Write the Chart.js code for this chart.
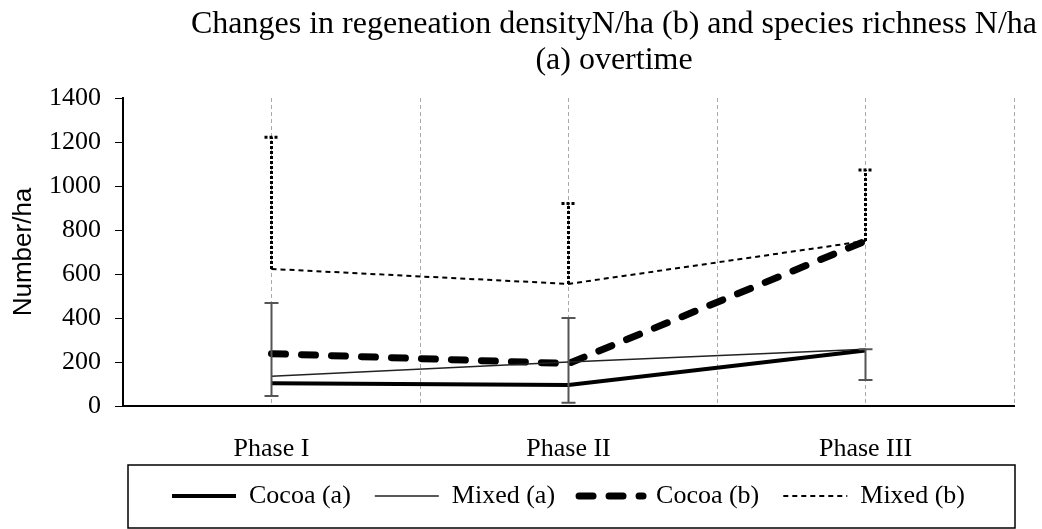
<!DOCTYPE html>
<html>
<head>
<meta charset="utf-8">
<script src="https://cdn.jsdelivr.net/npm/chart.js@4.4.1/dist/chart.umd.min.js"></script>
<style>
body { margin: 0; background: #fff; }
</style>
</head>
<body>
<canvas id="myChart" width="1042" height="529"></canvas>
<script>
const categories = ['Phase I', 'Phase II', 'Phase III'];
const cocoaA = [103, 96, 252];
const mixedA = [135, 200, 258];
const cocoaB = [238, 193, 750];
const mixedB = [623, 555, 750];
// error bars
const mixedBTop = [1222, 921, 1073];
const barLow = [46, 15, 118];
const barHigh = [468, 400, 258];
const titleLines = ['Changes in regeneation densityN/ha (b) and species richness N/ha', '(a) overtime'];

const serif = '"Liberation Serif", "Times New Roman", serif';
const pts = arr => arr.map((v, i) => ({x: i * 2 + 1, y: v}));

const titlePlugin = {
	id: 'twoLineTitle',
	afterDraw(chart) {
		const c = chart.ctx;
		c.save();
		c.font = '32px ' + serif;
		c.fillStyle = '#000';
		c.textAlign = 'center';
		c.textBaseline = 'middle';
		c.fillText(titleLines[0], 614, 25);
		c.fillText(titleLines[1], 614, 61);
		c.restore();
	}
};

const errorBars = {
	id: 'errorBars',
	afterDatasetsDraw(chart) {
		const c = chart.ctx;
		const xs = chart.scales.x, ys = chart.scales.y;
		c.save();
		categories.forEach((cat, i) => {
			const px = xs.getPixelForValue(i * 2 + 1);
			// dotted bar above Mixed (b)
			c.strokeStyle = '#000';
			c.lineWidth = 3;
			c.setLineDash([3, 2]);
			c.beginPath();
			c.moveTo(px, ys.getPixelForValue(mixedB[i]));
			c.lineTo(px, ys.getPixelForValue(mixedBTop[i]));
			c.moveTo(px - 7, ys.getPixelForValue(mixedBTop[i]));
			c.lineTo(px + 7, ys.getPixelForValue(mixedBTop[i]));
			c.stroke();
			// solid bar
			c.setLineDash([]);
			c.strokeStyle = '#555';
			c.lineWidth = 2;
			c.beginPath();
			c.moveTo(px, ys.getPixelForValue(barLow[i]));
			c.lineTo(px, ys.getPixelForValue(barHigh[i]));
			c.moveTo(px - 7, ys.getPixelForValue(barLow[i]));
			c.lineTo(px + 7, ys.getPixelForValue(barLow[i]));
			c.moveTo(px - 7, ys.getPixelForValue(barHigh[i]));
			c.lineTo(px + 7, ys.getPixelForValue(barHigh[i]));
			c.stroke();
		});
		c.restore();
	}
};

const legendBox = {
	id: 'legendBox',
	afterDraw(chart) {
		const l = chart.legend;
		const c = chart.ctx;
		c.save();
		c.strokeStyle = '#000';
		c.lineWidth = 1.5;
		c.strokeRect(l.left + 5, l.top + 6, l.width - 4, chart.height - l.top - 7);
		c.restore();
	}
};

const ctx = document.getElementById('myChart');

let chart = new Chart(ctx, {
	type: 'line',
	data: {
		datasets: [{
				label: 'Cocoa (a)',
				data: pts(cocoaA),
				borderColor: '#000',
				borderWidth: 4,
				pointRadius: 0,
			},
			{
				label: 'Mixed (a)',
				data: pts(mixedA),
				borderColor: '#222',
				borderWidth: 1.6,
				pointRadius: 0,
			},
			{
				label: 'Cocoa (b)',
				data: pts(cocoaB),
				borderColor: '#000',
				borderWidth: 7,
				borderDash: [14, 16],
				borderCapStyle: 'round',
				pointRadius: 0,
			},
			{
				label: 'Mixed (b)',
				data: pts(mixedB),
				borderColor: '#000',
				borderWidth: 2,
				borderDash: [5, 4],
				pointRadius: 0,
			}
		],
	},
	options: {
		responsive: false,
		animation: false,
		layout: {
			padding: {top: 98, right: 26, left: 0, bottom: 10}
		},
		plugins: {
			title: {display: false},
			tooltip: {enabled: false},
			legend: {
				position: 'bottom',
				fullSize: false,
				labels: {
					usePointStyle: true,
					pointStyle: 'line',
					pointStyleWidth: 64,
					color: '#000',
					padding: 24,
					font: {family: serif, size: 26},
					generateLabels: ch => ch.data.datasets.map((d, i) => ({
						text: d.label,
						datasetIndex: i,
						fillStyle: d.borderColor,
						strokeStyle: d.borderColor,
						fontColor: '#000',
						lineWidth: d.borderWidth,
						lineDash: d.borderDash || [],
						lineCap: d.borderCapStyle || 'butt',
						pointStyle: 'line',
						hidden: false
					}))
				}
			}
		},
		scales: {
			x: {
				type: 'linear',
				min: 0,
				max: 6,
				afterFit: s => { s.height = 53; },
				grid: {
					color: '#aaa',
					drawTicks: false,
				},
				border: {color: '#000', width: 2, dash: [4, 3]},
				ticks: {
					stepSize: 1,
					padding: 28,
					color: '#000',
					font: {family: serif, size: 26},
					callback: v => (v % 2 === 1 ? categories[(v - 1) / 2] : '')
				}
			},
			y: {
				min: 0,
				max: 1400,
				afterFit: s => { s.width = 123; },
				border: {color: '#000', width: 2},
				grid: {
					drawOnChartArea: false,
					color: '#000',
					tickLength: 8,
				},
				title: {
					display: true,
					text: 'Number/ha',
					color: '#000',
					font: {family: '"Liberation Sans", Arial, sans-serif', size: 26},
					padding: {top: 8, bottom: 0}
				},
				ticks: {
					stepSize: 200,
					padding: 14,
					color: '#000',
					font: {family: serif, size: 26},
					callback: v => String(v)
				}
			}
		}
	},
	plugins: [titlePlugin, errorBars, legendBox]
});
</script>
</body>
</html>
